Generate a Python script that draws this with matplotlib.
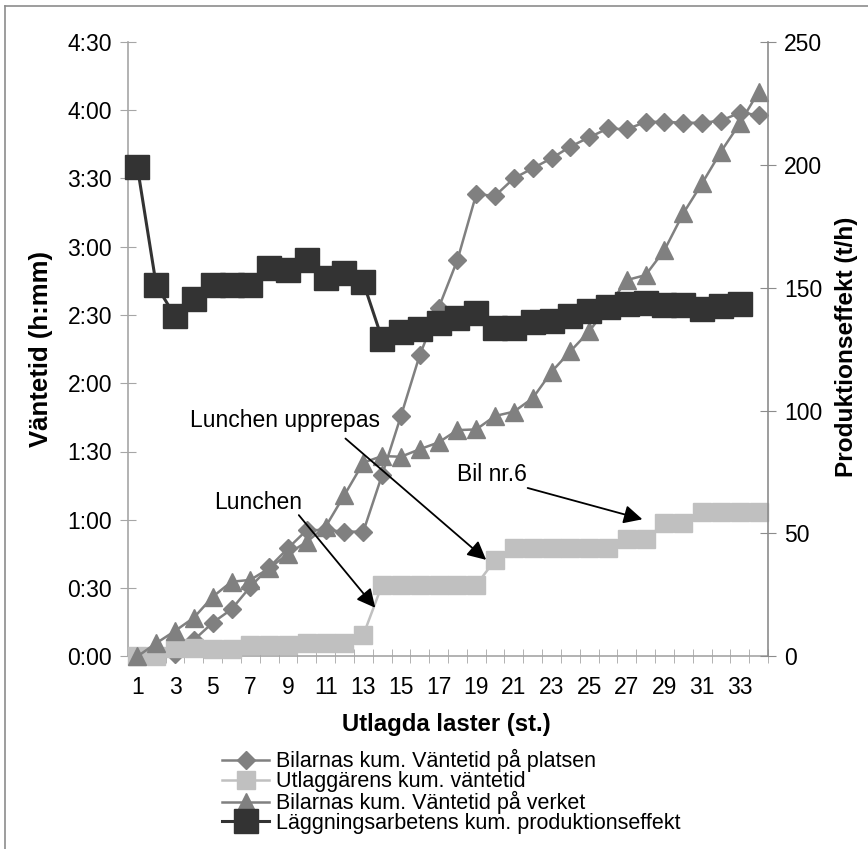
import matplotlib
matplotlib.use("Agg")
import matplotlib.pyplot as plt
from matplotlib.lines import Line2D
import numpy as np

plt.rcParams["font.family"] = ["Liberation Sans", "DejaVu Sans"]

# data (minutes for left axis, t/h for right axis)
laster = list(range(1, 35))
vantetid_platsen = [0, 0, 1, 7.2, 14.8, 20.7, 30.6, 39.1, 47.5, 55.5, 55.5, 54.8, 54.8,
                    79.7, 105.6, 132.4, 153, 174.1, 203, 202.3, 210, 214.4, 218.8, 223.9,
                    228, 231.9, 231.5, 234.8, 234.8, 234.4, 234.4, 235.3, 238.8, 237.8]
utlaggare_vantetid = [0, 0, 3.6, 3.6, 3.3, 3.3, 5, 5, 5, 6, 6, 6, 9.4,
                      31.4, 31.4, 31.4, 31.4, 31.4, 31.4, 42.3, 47.5, 47.5, 47.5, 47.5,
                      47.5, 47.5, 51.4, 51.4, 58.5, 58.5, 63.6, 63.6, 63.6, 63.6]
vantetid_verket = [0, 5.8, 11.2, 17, 26.2, 32.8, 33.6, 38.7, 45, 50.4, 57, 70.9, 85.1,
                   88, 87.7, 91, 94, 99.4, 99.7, 105.6, 107.5, 113.4, 125, 134,
                   142.8, 153.6, 165.3, 167.5, 178.5, 194.6, 207.8, 221.7, 234.1, 248]
produktionseffekt = [199, 151, 138.3, 145.2, 151, 151, 151, 157.8, 157.3, 161.1, 153.8,
                     155.8, 152.1, 129.1, 131.8, 133.1, 135.6, 137.5, 139.5, 133.4, 133.4,
                     135.9, 136.5, 138.6, 140.6, 142, 143.3, 143.6, 143, 143, 141.3,
                     142.6, 143.5]

left_ticks = list(range(0, 271, 30))
left_labels = ["0:00", "0:30", "1:00", "1:30", "2:00", "2:30", "3:00", "3:30", "4:00", "4:30"]
right_ticks = [0, 50, 100, 150, 200, 250]
x_labels = list(range(1, 34, 2))

W, H = 868, 849
fig = plt.figure(figsize=(W / 100, H / 100), dpi=100)
ax = fig.add_axes([128 / W, 1 - 656.4 / H, 640 / W, (656.4 - 41.7) / H])
ax2 = ax.twinx()

axis_grey = "#A6A6A6"
mid_grey = "#808080"
light_grey = "#C0C0C0"
dark = "#333333"
fs = 16.5

ax.plot(laster, vantetid_platsen, color=mid_grey, lw=1.8, marker="D", ms=9.4,
        label="Bilarnas kum. Väntetid på platsen", zorder=2, clip_on=False)
ax.plot(laster, utlaggare_vantetid, color=light_grey, lw=1.8, marker="s", ms=13.5,
        label="Utlaggärens kum. väntetid", zorder=3, clip_on=False)
ax.plot(laster, vantetid_verket, color=mid_grey, lw=1.8, marker="^", ms=13,
        label="Bilarnas kum. Väntetid på verket", zorder=4, clip_on=False)
ax2.plot(laster[:len(produktionseffekt)], produktionseffekt, color=dark, lw=2.2,
         marker="s", ms=17, label="Läggningsarbetens kum. produktionseffekt", clip_on=False)

ax.set_xlim(0.5, 34.5)
ax.set_ylim(0, 270)
ax2.set_ylim(0, 250)

ax.set_yticks(left_ticks)
ax.set_yticklabels(left_labels, fontsize=fs)
ax2.set_yticks(right_ticks)
ax2.set_yticklabels([str(v) for v in right_ticks], fontsize=fs)
ax.set_xticks(x_labels)
ax.set_xticklabels([str(v) for v in x_labels], fontsize=fs)
ax.set_xticks(np.arange(0.5, 35, 1), minor=True)

ax.tick_params(axis="x", which="major", length=0, pad=14)
ax.tick_params(axis="x", which="minor", direction="inout", length=10, color=axis_grey)
ax.tick_params(axis="y", direction="inout", length=11, color=axis_grey, pad=6)
ax2.tick_params(axis="y", direction="inout", length=11, color="#8C8C8C", pad=6)

for s in ["top", "right"]:
    ax.spines[s].set_visible(False)
for s in ["top", "left", "bottom"]:
    ax2.spines[s].set_visible(False)
ax.spines["left"].set_color(axis_grey)
ax.spines["bottom"].set_color(axis_grey)
ax2.spines["right"].set_color("#8C8C8C")
for sp in (ax.spines["left"], ax.spines["bottom"], ax2.spines["right"]):
    sp.set_linewidth(1.2)

fig.text(41.5 / W, 1 - 349 / H, "Väntetid (h:mm)", rotation=90, ha="center", va="center",
         fontsize=18.5, fontweight="bold")
fig.text(846 / W, 1 - 347 / H, "Produktionseffekt (t/h)", rotation=90, ha="center",
         va="center", fontsize=17.6, fontweight="bold")
fig.text(446.7 / W, 1 - 725 / H, "Utlagda laster (st.)", ha="center", va="center",
         fontsize=17.2, fontweight="bold")

# annotations
arrow = dict(arrowstyle="-|>", color="black", lw=1.3, mutation_scale=28)
ax.text(7.41, 67.4, "Lunchen", ha="center", va="center", fontsize=fs, zorder=6)
ax.annotate("", xy=(13.73, 20.4), xytext=(9.48, 63.0), arrowprops=arrow, zorder=6)
ax.text(8.82, 103.4, "Lunchen upprepas", ha="center", va="center", fontsize=fs, zorder=6)
ax.annotate("", xy=(19.64, 41.6), xytext=(11.94, 96.5), arrowprops=arrow, zorder=6)
ax.text(19.82, 79.7, "Bil nr.6", ha="center", va="center", fontsize=fs, zorder=6)
ax.annotate("", xy=(27.97, 59.9), xytext=(21.59, 74.3), arrowprops=arrow, zorder=6)

h1, l1 = ax.get_legend_handles_labels()
h2, l2 = ax2.get_legend_handles_labels()
fig.legend(h1 + h2, l1 + l2, loc="upper left", bbox_to_anchor=(222 / W, 1 - 749 / H),
           frameon=False, fontsize=15.5, handlelength=2.2, handletextpad=0.32,
           labelspacing=-0.05, borderpad=0, borderaxespad=0)

# chart area border (left and top edges visible)
fig.add_artist(Line2D([5 / W, 5 / W], [0, 1 - 6 / H], color="#8C8C8C", lw=1.2))
fig.add_artist(Line2D([5 / W, 1], [1 - 6 / H, 1 - 6 / H], color="#8C8C8C", lw=1.2))

fig.savefig("out.png", dpi=100)
